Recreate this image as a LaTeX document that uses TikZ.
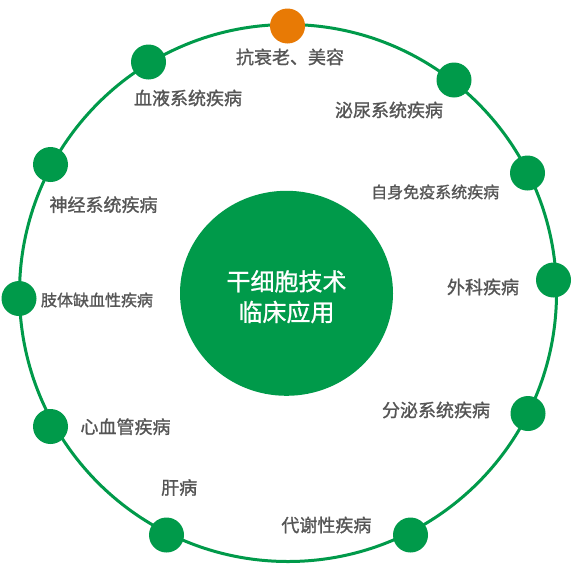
\documentclass[tikz,border=0pt]{standalone}
\usepackage{fontspec}
\usetikzlibrary{shapes.geometric}
\newfontfamily\cjk[FakeBold=1.2]{Noto Sans CJK SC}
\newfontfamily\cjkhub[FakeBold=1.0]{Noto Sans CJK SC}
\definecolor{ringgreen}{HTML}{009A4A}
\definecolor{dotorange}{HTML}{E87A05}
\definecolor{labelgray}{HTML}{555555}
\begin{document}
\begin{tikzpicture}[x=1pt,y=-1pt,
  dot/.style={circle,fill=ringgreen,minimum size=35pt,inner sep=0pt},
  hotdot/.style={circle,fill=dotorange,minimum size=35pt,inner sep=0pt},
  lab/.style={inner sep=0pt,text=labelgray,font=\cjk\fontsize{18}{20}\selectfont},
  smalllab/.style={lab,font=\cjk\fontsize{16}{18}\selectfont},
  hub/.style={ellipse,fill=ringgreen,minimum width=213pt,minimum height=205pt,inner sep=0pt},
  hubtext/.style={inner sep=0pt,text=white,font=\cjkhub\fontsize{24}{26}\selectfont}]
\useasboundingbox (0,0) rectangle (572,570);
\fill[white] (0,0) rectangle (572,570);
% ring
\draw[ringgreen,line width=3pt] (288,293) circle[radius=268.5];
% hub
\node[hub] (hub) at (286.5,293.3) {};
\node[hubtext] (hubA) at (286.5,281.3) {干细胞技术};
\node[hubtext] (hubB) at (286.5,312) {临床应用};
% dots
\node[hotdot] (d0) at (287.5,26) {};
\node[dot] (d1) at (148.5,62) {};
\node[dot] (d2) at (454,80) {};
\node[dot] (d3) at (50.5,164.5) {};
\node[dot] (d4) at (527.5,173) {};
\node[dot] (d5) at (553.5,280) {};
\node[dot] (d6) at (19,298.5) {};
\node[dot] (d7) at (50.5,426.5) {};
\node[dot] (d8) at (528,413.5) {};
\node[dot] (d9) at (166.5,535) {};
\node[dot] (d10) at (410.5,535) {};
% labels
\node[lab] (l0) at (290,57) {抗衰老、美容};
\node[lab] (l1) at (188,98) {血液系统疾病};
\node[lab] (l2) at (389,110) {泌尿系统疾病};
\node[lab] (l3) at (103.5,204.7) {神经系统疾病};
\node[smalllab] (l4) at (435.2,192) {自身免疫系统疾病};
\node[lab] (l5) at (483,287) {外科疾病};
\node[smalllab] (l6) at (97,300) {肢体缺血性疾病};
\node[lab] (l7) at (125.5,426.7) {心血管疾病};
\node[lab] (l8) at (436,410) {分泌系统疾病};
\node[lab] (l9) at (179.2,487.5) {肝病};
\node[lab] (l10) at (326.4,525) {代谢性疾病};
\end{tikzpicture}
\end{document}
